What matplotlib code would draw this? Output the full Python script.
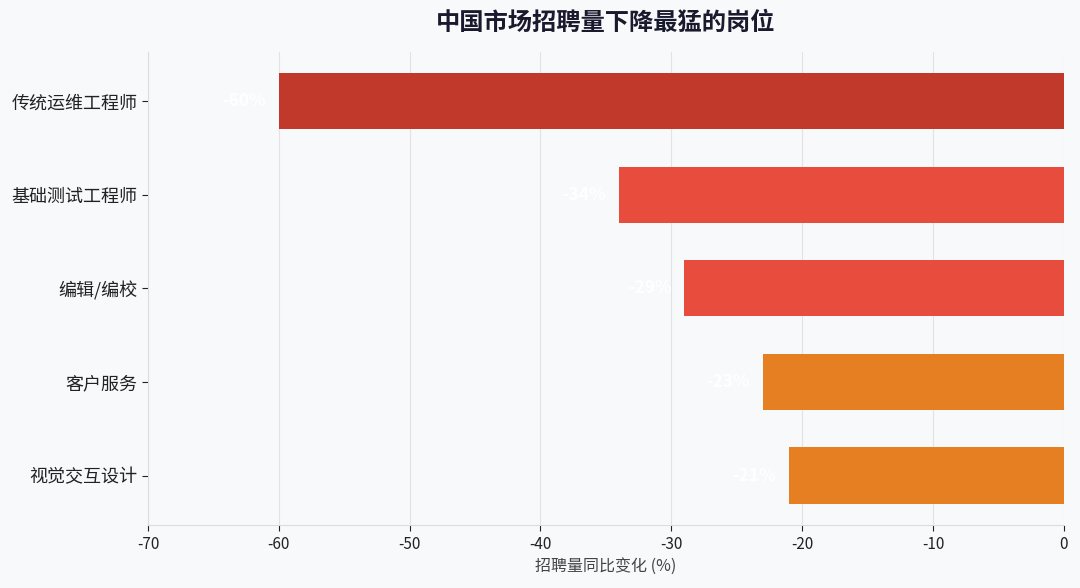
import matplotlib
matplotlib.use("Agg")
import matplotlib.pyplot as plt

plt.rcParams['font.family'] = ['Noto Sans CJK SC', 'DejaVu Sans']
plt.rcParams['axes.unicode_minus'] = False

# data, top to bottom
jobs = ["传统运维工程师", "基础测试工程师", "编辑/编校", "客户服务", "视觉交互设计"]
changes = [-60, -34, -29, -23, -21]
bar_colors = ["#c0392b", "#e74c3c", "#e74c3c", "#e67e22", "#e67e22"]
x_ticks = [-70, -60, -50, -40, -30, -20, -10, 0]

bg = "#f8f9fa"
fig = plt.figure(figsize=(10.8, 5.88), dpi=100, facecolor=bg)
ax = fig.add_axes([0.137, 0.107, 0.848, 0.805])
ax.set_facecolor(bg)

pos = list(range(len(jobs)))
ax.barh(pos, changes, height=0.6, color=bar_colors, zorder=3)
ax.invert_yaxis()
ax.set_yticks(pos)
ax.set_yticklabels(jobs, fontsize=13, color="#222222")

# value labels just left of each bar end
for p, v in zip(pos, changes):
    ax.text(v - 1, p, f"{v}%", ha="right", va="center", color="white",
            fontsize=12.5, fontweight="bold", zorder=4)

ax.set_xlim(-70, 0)
ax.set_xticks(x_ticks)
ax.tick_params(axis="x", labelsize=11, colors="#222222", length=4)
ax.tick_params(axis="y", length=4, colors="#222222")
ax.set_xlabel("招聘量同比变化 (%)", fontsize=11.5, color="#444444", labelpad=4)

ax.grid(axis="x", color="#e3e3e3", linewidth=0.8, zorder=0)
for s in ["top", "right"]:
    ax.spines[s].set_visible(False)
for s in ["left", "bottom"]:
    ax.spines[s].set_color("#dddddd")
    ax.spines[s].set_linewidth(0.8)

ax.set_title("中国市场招聘量下降最猛的岗位", fontsize=17.5, fontweight="bold",
             color="#1a1a2e", pad=16)

fig.savefig("out.png", dpi=100, facecolor=bg)
